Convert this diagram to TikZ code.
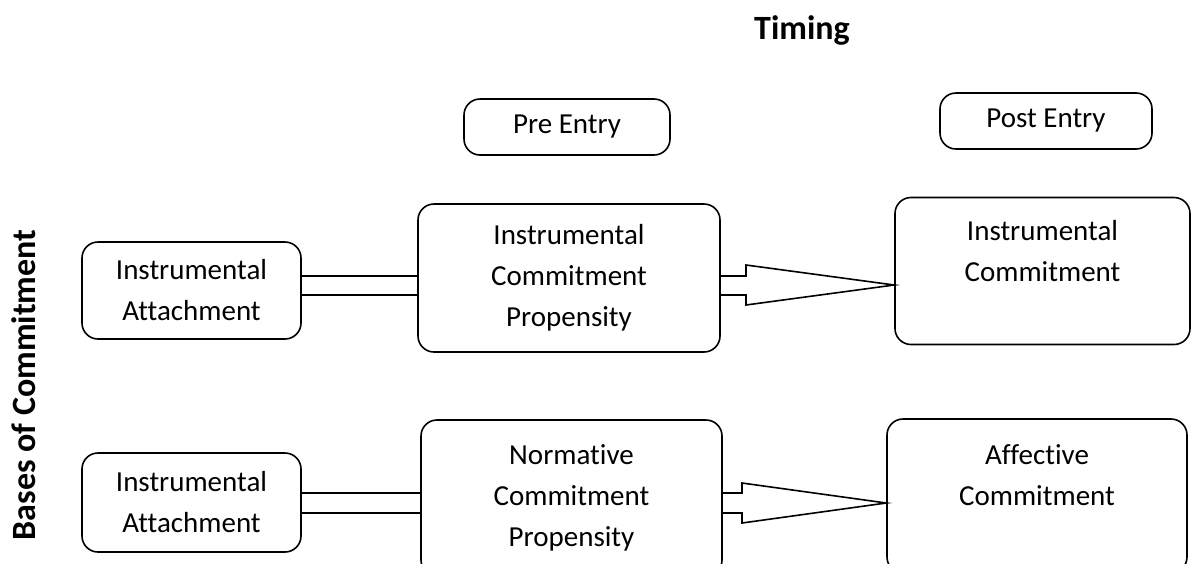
\documentclass[tikz,border=0pt]{standalone}
\usepackage{fontspec}
\setmainfont{Carlito}[Ligatures={NoCommon,NoContextual,NoRare}]
\begin{document}
\begin{tikzpicture}[x=1pt, y=-1pt,
  box/.style={draw, line width=1.6pt, rounded corners=16pt, inner sep=0pt,
    align=center, font=\fontsize{29}{41}\selectfont},
  head/.style={font=\bfseries\fontsize{34}{40}\selectfont},
  link/.style={line width=1.6pt},
  blockarrow/.style={line width=1.6pt, line join=miter}]
  \useasboundingbox (0,0) rectangle (1193,563);
  \clip (0,0) rectangle (1193,563);

  % headings
  \node[head] (timing) at (802,30) {Timing};
  \node[head, rotate=90] (bases) at (24,385) {Bases of Commitment};

  % timing boxes
  \node[box, minimum width=206pt, minimum height=56pt] (pre) at (567,127) {Pre Entry};
  \node[box, minimum width=212pt, minimum height=56pt] (post) at (1046,121) {Post Entry};

  % left column
  \node[box, minimum width=219pt, minimum height=97pt] (ia1) at (191.5,290.5) {Instrumental\\Attachment};
  \node[box, minimum width=219pt, minimum height=99pt] (ia2) at (191.5,502.5) {Instrumental\\Attachment};

  % propensities
  \node[box, minimum width=302pt, minimum height=148pt] (icp) at (569,278) {Instrumental\\Commitment\\Propensity};
  \node[box, minimum width=301pt, minimum height=156pt] (ncp) at (571.5,498) {Normative\\Commitment\\Propensity};

  % outcomes
  \node[box, minimum width=295pt, minimum height=147pt] (ic) at (1042.5,271) {Instrumental\\Commitment\\~};
  \node[box, minimum width=300pt, minimum height=154pt] (ac) at (1037,496) {Affective\\Commitment\\~};

  % double-line links
  \draw[link] (ia1.east |- 0,276) -- (icp.west |- 0,276);
  \draw[link] (ia1.east |- 0,295) -- (icp.west |- 0,295);
  \draw[link] (ia2.east |- 0,493) -- (ncp.west |- 0,493);
  \draw[link] (ia2.east |- 0,513) -- (ncp.west |- 0,513);

  % block arrows
  \draw[blockarrow] (icp.east |- 0,276) -- (746,276) -- (746,265) -- (ic.west |- 0,285)
    -- (746,305) -- (746,295) -- (icp.east |- 0,295);
  \draw[blockarrow] (ncp.east |- 0,493) -- (742,493) -- (742,483) -- (ac.west |- 0,503)
    -- (742,523) -- (742,513) -- (ncp.east |- 0,513);
\end{tikzpicture}
\end{document}
